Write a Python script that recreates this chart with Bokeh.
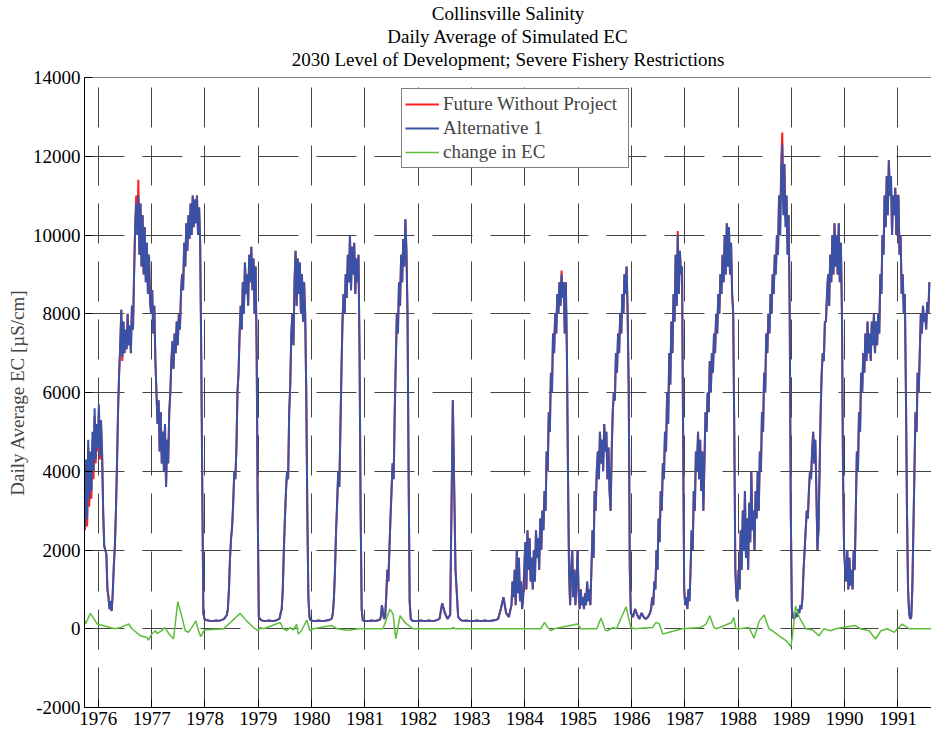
from bokeh.plotting import figure
from bokeh.models import Range1d, FixedTicker, Legend, LegendItem, Title, Span
from bokeh.embed import file_html
from bokeh.resources import INLINE

TITLE_LINES = ["Collinsville Salinity",
               "Daily Average of Simulated EC",
               "2030 Level of Development; Severe Fishery Restrictions"]
Y_LABEL = "Daily Average EC [\u00b5S/cm]"
YEARS = [1976, 1977, 1978, 1979, 1980, 1981, 1982, 1983, 1984, 1985, 1986, 1987, 1988, 1989, 1990, 1991]
Y_TICKS = [-2000, 0, 2000, 4000, 6000, 8000, 10000, 12000, 14000]
SERIES = ["Future Without Project", "Alternative 1", "change in EC"]

# Readings in evenly spaced segments: start year, step (years), values
seg_start = [1975.75, 1978.01, 1978.43, 1979.05, 1979.42, 1980.03, 1980.40, 1981.03, 1981.30,
             1981.95, 1983.77, 1984.87, 1985.99, 1986.37, 1987.03, 1987.99, 1989.05, 1990.01]
seg_step = [0.02, 0.05, 0.02, 0.05, 0.02, 0.05, 0.02, 0.05, 0.02,
            0.05, 0.02, 0.02, 0.04, 0.02, 0.02, 0.02, 0.02, 0.02]

# Alternative 1 (blue)
alt1_a = [2600, 4300, 2800, 4800, 3300, 4500, 3500, 5000, 4000, 5600,
          4300, 5200, 4600, 5700, 4400, 5300, 4500, 3000, 2100, 2000,
          1900, 1000, 800, 500, 700, 450, 900, 1600, 2100, 3000,
          4200, 5600, 6500, 7200, 8100, 6900, 7800, 7000, 7600, 7100,
          8000, 7200, 7700, 7000, 8200, 7600, 9000, 10200, 10800, 10000,
          11000, 9500, 10800, 9200, 10500, 9000, 10200, 8800, 9800, 8500,
          9500, 8300, 8000, 8600, 7500, 8200, 6800, 6000, 5200, 5800,
          4500, 5500, 4200, 5000, 4000, 5200, 3600, 4800, 4200, 5500,
          6000, 6800, 7300, 6600, 7500, 7000, 7800, 7200, 8000, 7600,
          8500, 9000, 8600, 9800, 9200, 10300, 9600, 10500, 9900, 10800,
          10000, 11000, 10200, 10900, 10300, 11000, 10000, 10700, 9800, 7000,
          3500, 400, 250]
alt1_b = [230, 210, 200, 200, 210, 200, 220, 250, 350]
alt1_c = [500, 1000, 1800, 2300, 2600, 3200, 4000, 3800, 4600, 6000,
          6500, 7500, 8200, 7600, 8800, 8000, 9300, 8500, 9000, 8200,
          9500, 8800, 9700, 8600, 9400, 8000, 9200, 7000, 3000, 300]
alt1_d = [220, 200, 200, 210, 200, 200, 220, 260]
alt1_e = [400, 500, 1000, 2000, 2800, 3500, 4000, 3800, 5500, 6200,
          7500, 8000, 7200, 8800, 9600, 8200, 9400, 8500, 9300, 8000,
          9000, 7800, 8800, 8000, 6000, 3000, 800, 300, 220]
alt1_f = [200, 200, 210, 200, 200, 210, 220, 260]
alt1_g = [400, 800, 1500, 2500, 3200, 4000, 3600, 5000, 6500, 7800,
          8500, 8000, 9000, 8400, 9500, 8800, 10000, 8600, 9700, 9000,
          9800, 8500, 9400, 8800, 9500, 7000, 3000, 500, 220, 200]
alt1_h = [200, 200, 210, 200, 210, 230]
alt1_i = [300, 600, 400, 250, 300, 800, 1500, 1200, 2000, 2800,
          3500, 4200, 3800, 5500, 6800, 8000, 7500, 8800, 8200, 9500,
          8800, 9900, 9200, 10400, 9600, 8000, 4000, 700, 250, 220, 200]
alt1_j = [200, 200, 210, 200, 200, 210, 200, 200, 220, 250,
          650, 400, 250, 350, 5800, 1500, 300, 220, 200, 210,
          200, 200, 200, 210, 200, 200, 210, 200, 200, 210,
          220, 250, 500, 800, 400, 300, 600]
alt1_k = [1200, 800, 1500, 600, 2000, 900, 1800, 700, 1200, 500,
          800, 1500, 2200, 1000, 2500, 1500, 2300, 1200, 1800, 1000,
          2000, 1200, 2500, 1800, 2300, 1500, 2800, 2000, 3000, 2500,
          3500, 3000, 4500, 4000, 5500, 5000, 6500, 6000, 7500, 7000,
          8000, 7500, 8500, 8000, 8800, 8200, 9000, 8400, 8800, 7500,
          8800, 7000, 4000, 1500, 600]
alt1_l = [1500, 2000, 800, 1500, 600, 1200, 2000, 900, 500, 1000,
          600, 800, 500, 900, 600, 1200, 700, 1000, 600, 1500,
          2500, 1800, 3500, 3000, 4000, 4500, 3800, 5000, 4200, 4800,
          4000, 5200, 4500, 5000, 3800, 4600, 3500, 3000, 4500, 5500,
          6000, 5800, 7000, 6500, 7500, 7000, 8000, 7500, 8500, 8000,
          9000, 8500, 9200, 8000, 6000, 1500]
alt1_m = [400, 300, 500, 350, 250, 400, 300, 250, 300, 400]
alt1_n = [500, 800, 600, 1200, 1000, 2000, 1500, 2800, 2200, 3500,
          3000, 4200, 3800, 5000, 4500, 6000, 5200, 7000, 6200, 7800,
          7000, 8500, 7800, 9500, 8200, 10000, 8500, 9600, 9000, 9200,
          5000, 1000, 600]
alt1_o = [800, 500, 1000, 700, 1500, 2500, 2000, 3500, 3000, 4500,
          4000, 5000, 3800, 4800, 3500, 4500, 3000, 4200, 5500, 5000,
          6000, 5500, 6800, 6000, 7000, 6500, 7500, 7000, 8000, 7500,
          8500, 8000, 9000, 8500, 9500, 8800, 10000, 9000, 10300, 9200,
          10200, 9000, 9800, 8500, 8000, 5000, 1500, 800]
alt1_p = [700, 1500, 1000, 2500, 1500, 3000, 2000, 3500, 1800, 2800,
          1500, 3200, 2200, 4000, 2500, 3000, 2000, 3500, 2800, 4000,
          3000, 4500, 4000, 5500, 5000, 6500, 6000, 7500, 7000, 8000,
          7500, 8500, 8000, 9000, 8500, 9500, 9000, 10000, 9500, 11000,
          10000, 11500, 12300, 10500, 11800, 10200, 11000, 9500, 10500, 8000,
          3000, 500, 300]
alt1_q = [250, 300, 400, 300, 500, 400, 600, 500, 800, 1500,
          2000, 2500, 3000, 2800, 3500, 4000, 3800, 4500, 5000, 4200,
          4800, 3500, 2000, 2500, 4000, 5500, 6500, 7000, 6800, 7800,
          7800, 8500, 9000, 8200, 9500, 8800, 10000, 9000, 10300, 9200,
          10000, 9000, 10300, 8800, 9800, 8000, 4000, 2000]
alt1_r = [1500, 1200, 2000, 1000, 1800, 1100, 1500, 1000, 2000, 1500,
          3000, 4500, 4000, 5500, 5000, 6500, 6000, 7000, 6500, 7500,
          6800, 7800, 7000, 7500, 6800, 7800, 7200, 8000, 7000, 7800,
          7200, 8000, 7500, 9000, 8500, 10000, 9500, 11000, 10200, 11500,
          10500, 11900, 11000, 11500, 10000, 11000, 10500, 11200, 10000, 11000,
          11000, 9500, 10000, 8500, 9000, 8000, 8500, 6000, 3000, 1000,
          400, 250, 300, 1000, 2500, 4000, 5500, 5000, 6500, 6000,
          7000, 8000, 7500, 8200, 7800, 8000, 7600, 8300, 8000, 8800]

# Future Without Project (red)
fwp_a = [2500, 4000, 2600, 4600, 3100, 4300, 3300, 4800, 3800, 5400,
         4200, 5100, 4500, 5600, 4300, 5200, 4400, 3000, 2100, 2000,
         1900, 1000, 800, 500, 700, 450, 900, 1600, 2100, 3000,
         4200, 5500, 6500, 7100, 8100, 6800, 7800, 7000, 7500, 7100,
         8000, 7200, 7700, 7000, 8200, 7600, 9000, 10200, 11000, 10000,
         11400, 9500, 10800, 9200, 10500, 9000, 10200, 8800, 9800, 8500,
         9500, 8300, 8000, 8600, 7500, 8200, 6800, 6000, 5200, 5800,
         4500, 5500, 4200, 5000, 4000, 5200, 3600, 4800, 4200, 5500,
         6000, 6800, 7300, 6600, 7500, 7000, 7800, 7200, 8000, 7600,
         8500, 9000, 8600, 9800, 9200, 10300, 9600, 10500, 9900, 10800,
         10000, 11000, 10200, 10900, 10300, 11000, 10000, 10700, 9800, 7000,
         3500, 400, 250]
fwp_b = [230, 210, 200, 200, 210, 200, 220, 250, 350]
fwp_c = [500, 1000, 1800, 2300, 2600, 3200, 4000, 3800, 4600, 6000,
         6500, 7500, 8200, 7600, 8800, 8000, 9300, 8500, 9000, 8200,
         9500, 8800, 9700, 8600, 9400, 8000, 9200, 7000, 3000, 300]
fwp_d = [220, 200, 200, 210, 200, 200, 220, 260]
fwp_e = [400, 500, 1000, 2000, 2800, 3500, 4000, 3800, 5500, 6200,
         7500, 8000, 7200, 8800, 9600, 8200, 9400, 8500, 9300, 8000,
         9000, 7800, 8800, 8000, 6000, 3000, 800, 300, 220]
fwp_f = [200, 200, 210, 200, 200, 210, 220, 260]
fwp_g = [400, 800, 1500, 2500, 3200, 4000, 3600, 5000, 6500, 7800,
         8500, 8000, 9000, 8400, 9500, 8800, 10000, 8600, 9700, 9000,
         9800, 8500, 9400, 8800, 9500, 7000, 3000, 500, 220, 200]
fwp_h = [200, 200, 210, 200, 210, 230]
fwp_i = [300, 600, 400, 250, 300, 800, 1500, 1200, 2000, 2800,
         3500, 4200, 3800, 5500, 6800, 8000, 7500, 8800, 8200, 9500,
         8800, 9900, 9200, 10400, 9600, 8000, 4000, 700, 250, 220, 200]
fwp_j = [200, 200, 210, 200, 200, 210, 200, 200, 220, 250,
         650, 400, 250, 350, 5800, 1500, 300, 220, 200, 210,
         200, 200, 200, 210, 200, 200, 210, 200, 200, 210,
         220, 250, 500, 800, 400, 300, 600]
fwp_k = [1200, 800, 1500, 600, 2000, 900, 1800, 700, 1200, 500,
         800, 1500, 2200, 1000, 2500, 1500, 2300, 1200, 1800, 1000,
         2000, 1200, 2500, 1800, 2300, 1500, 2800, 2000, 3000, 2500,
         3500, 3000, 4500, 4000, 5500, 5000, 6500, 6000, 7500, 7000,
         8000, 7500, 8500, 8000, 8800, 8200, 9100, 8400, 8800, 7500,
         8800, 7000, 4000, 1500, 600]
fwp_l = [1500, 2000, 800, 1500, 600, 1200, 2000, 900, 500, 1000,
         600, 800, 500, 900, 600, 1200, 700, 1000, 600, 1500,
         2500, 1800, 3500, 3000, 4000, 4500, 3800, 5000, 4200, 4800,
         4000, 5200, 4500, 5000, 3800, 4600, 3500, 3000, 4500, 5500,
         6000, 5800, 7000, 6500, 7500, 7000, 8000, 7500, 8500, 8000,
         9000, 8500, 9200, 8000, 6000, 1500]
fwp_m = [400, 300, 500, 350, 250, 400, 300, 250, 300, 400]
fwp_n = [500, 800, 600, 1200, 1000, 2000, 1500, 2800, 2200, 3500,
         3000, 4200, 3800, 5000, 4500, 6000, 5200, 7000, 6200, 7800,
         7000, 8500, 7800, 9500, 8200, 10100, 8500, 9600, 9000, 9200,
         5000, 1000, 600]
fwp_o = [800, 500, 1000, 700, 1500, 2500, 2000, 3500, 3000, 4500,
         4000, 5000, 3800, 4800, 3500, 4500, 3000, 4200, 5500, 5000,
         6000, 5500, 6800, 6000, 7000, 6500, 7500, 7000, 8000, 7500,
         8500, 8000, 9000, 8500, 9500, 8800, 10000, 9000, 10300, 9200,
         10200, 9000, 9800, 8500, 8000, 5000, 1500, 800]
fwp_p = [700, 1500, 1000, 2500, 1500, 3000, 2000, 3500, 1800, 2800,
         1500, 3200, 2200, 4000, 2500, 3000, 2000, 3500, 2800, 4000,
         3000, 4500, 4000, 5500, 5000, 6500, 6000, 7500, 7000, 8000,
         7500, 8500, 8000, 9000, 8500, 9500, 9000, 10000, 9500, 11000,
         10000, 11800, 12600, 10800, 11800, 10400, 11000, 9500, 10500, 8000,
         3000, 500, 300]
fwp_q = [250, 300, 400, 300, 500, 400, 600, 500, 800, 1500,
         2000, 2500, 3000, 2800, 3500, 4000, 3800, 4500, 5000, 4200,
         4800, 3500, 2000, 2500, 4000, 5500, 6500, 7000, 6800, 7800,
         7800, 8500, 9000, 8200, 9500, 8800, 10000, 9000, 10300, 9200,
         10000, 9000, 10300, 8800, 9800, 8000, 4000, 2000]
fwp_r = [1500, 1200, 2000, 1000, 1800, 1100, 1500, 1000, 2000, 1500,
         3000, 4500, 4000, 5500, 5000, 6500, 6000, 7000, 6500, 7500,
         6800, 7800, 7000, 7500, 6800, 7800, 7200, 8000, 7000, 7800,
         7200, 8000, 7500, 9000, 8500, 10000, 9500, 11000, 10200, 11500,
         10500, 11900, 11000, 11500, 10000, 11000, 10500, 11200, 10000, 11000,
         11000, 9500, 10000, 8500, 9000, 8000, 8500, 6000, 3000, 1000,
         400, 250, 300, 1000, 2500, 4000, 5500, 5000, 6500, 6000,
         7000, 8000, 7500, 8200, 7800, 8000, 7600, 8300, 8000, 8800]

alt1_segs = [alt1_a, alt1_b, alt1_c, alt1_d, alt1_e, alt1_f, alt1_g, alt1_h, alt1_i,
             alt1_j, alt1_k, alt1_l, alt1_m, alt1_n, alt1_o, alt1_p, alt1_q, alt1_r]
fwp_segs = [fwp_a, fwp_b, fwp_c, fwp_d, fwp_e, fwp_f, fwp_g, fwp_h, fwp_i,
            fwp_j, fwp_k, fwp_l, fwp_m, fwp_n, fwp_o, fwp_p, fwp_q, fwp_r]

# change in EC (green)
chg_t = [1975.75, 1975.76, 1975.85, 1975.98, 1976.22, 1976.31, 1976.41, 1976.57, 1976.63, 1976.79,
         1976.91, 1976.94, 1977.0, 1977.07, 1977.1, 1977.19, 1977.25, 1977.32, 1977.41, 1977.49,
         1977.57, 1977.63, 1977.69, 1977.75, 1977.83, 1977.88, 1977.92, 1977.99, 1978.35, 1978.66,
         1978.78, 1978.91, 1979.0, 1979.03, 1979.1, 1979.41, 1979.47, 1979.53, 1979.6, 1979.66,
         1979.72, 1979.75, 1979.81, 1979.91, 1979.97, 1980.03, 1980.38, 1980.48, 1980.66, 1980.91,
         1981.34, 1981.47, 1981.53, 1981.58, 1981.66, 1981.75, 1981.9, 1982.62, 1982.65, 1982.7,
         1984.3, 1984.37, 1984.43, 1984.49, 1984.55, 1984.99, 1985.05, 1985.35, 1985.43, 1985.51,
         1985.56, 1985.65, 1985.72, 1985.9, 1985.99, 1986.05, 1986.4, 1986.46, 1986.52, 1986.59,
         1986.71, 1986.96, 1987.3, 1987.4, 1987.47, 1987.55, 1987.6, 1987.88, 1987.92, 1987.96,
         1988.02, 1988.21, 1988.3, 1988.4, 1988.49, 1988.58, 1988.64, 1988.77, 1988.9, 1988.99,
         1989.02, 1989.08, 1989.15, 1989.27, 1989.4, 1989.52, 1989.61, 1989.74, 1989.83, 1990.2,
         1990.3, 1990.46, 1990.58, 1990.68, 1990.8, 1990.93, 1991.08, 1991.21, 1991.63]
chg_v = [200, 120, 390, 120, 30, 0, 30, 120, 0, -180,
         -220, -290, -135, -50, -120, -50, 30, -120, -260, 690,
         290, -50, -90, 30, 200, -50, -200, -30, 0, 390,
         200, 30, -50, 30, 0, 160, 0, -50, 30, -30,
         120, -135, -50, 220, -50, 0, 80, 0, -40, 0,
         0, 500, 370, -260, 330, 160, 0, 0, 30, 0,
         0, 160, 30, -50, 0, 120, 0, 0, 270, -30,
         -50, 30, 0, 560, 30, 0, 30, 160, 130, -135,
         -90, 0, 30, 120, 330, 30, 0, 160, 290, 0,
         0, 30, -240, 200, 350, 0, -50, -180, -300, -450,
         -200, 580, 290, 0, -30, -180, 0, -50, 0, 80,
         0, -50, -260, -50, 0, -90, 120, 0, 0]


def expand(starts, steps, segs):
    xs, ys = [], []
    for t0, dt, vals in zip(starts, steps, segs):
        for i, v in enumerate(vals):
            xs.append(t0 + i * dt)
            ys.append(v)
    return xs, ys


fwp_t, fwp_v = expand(seg_start, seg_step, fwp_segs)
alt_t, alt_v = expand(seg_start, seg_step, alt1_segs)

FONT = "Liberation Serif"
FS = "19px"

p = figure(width=931, height=735, output_backend="svg", toolbar_location=None,
           x_range=Range1d(1975.74, 1991.63), y_range=Range1d(-2000, 14000),
           min_border_left=84, min_border_right=0, min_border_top=75, min_border_bottom=28)
p.outline_line_color = None
p.background_fill_color = "white"
p.border_fill_color = "white"

# small spacer between the last title line and the frame
p.add_layout(Title(text=" ", text_font=FONT, text_font_size="6px", standoff=0), "above")
for txt in reversed(TITLE_LINES):
    p.add_layout(Title(text=txt, align="center", text_font=FONT, text_font_size=FS,
                       text_font_style="normal", text_color="black", standoff=0), "above")

r_fwp = p.line(fwp_t, fwp_v, line_color="#ff1f1f", line_width=2)
r_alt = p.line(alt_t, alt_v, line_color="#3a52a6", line_width=2)
r_chg = p.line(chg_t, chg_v, line_color="#5dbe3c", line_width=1.5)

p.add_layout(Span(location=14000, dimension="width", line_color="black", line_width=1))

p.xaxis.ticker = FixedTicker(ticks=YEARS)
p.xaxis.major_label_overrides = {y: str(y) for y in YEARS}
p.yaxis.ticker = FixedTicker(ticks=Y_TICKS)
p.yaxis.major_label_overrides = {v: str(v) for v in Y_TICKS}
for ax in (p.xaxis, p.yaxis):
    ax.major_label_text_font = FONT
    ax.major_label_text_font_size = FS
    ax.major_label_text_color = "black"
    ax.major_tick_in = 8
    ax.major_tick_out = 0
    ax.minor_tick_line_color = None
    ax.axis_line_color = "black"
    ax.major_tick_line_color = "black"
    ax.major_label_standoff = 4
p.yaxis.axis_label = Y_LABEL
p.yaxis.axis_label_text_font = FONT
p.yaxis.axis_label_text_font_size = FS
p.yaxis.axis_label_text_font_style = "normal"
p.yaxis.axis_label_standoff = 2

p.grid.grid_line_color = "#444444"
p.grid.grid_line_dash = "40 18"
p.grid.grid_line_width = 1

legend = Legend(items=[LegendItem(label=SERIES[0], renderers=[r_fwp]),
                       LegendItem(label=SERIES[1], renderers=[r_alt]),
                       LegendItem(label=SERIES[2], renderers=[r_chg])],
                location=(317, 539), label_text_font=FONT, label_text_font_size=FS,
                border_line_color="black", border_line_width=1, background_fill_alpha=1,
                glyph_width=34, glyph_height=24, label_height=24, label_width=182,
                padding=3, spacing=0, margin=0, label_standoff=4)
p.add_layout(legend)

open("out.html", "w").write(file_html(p, INLINE))
